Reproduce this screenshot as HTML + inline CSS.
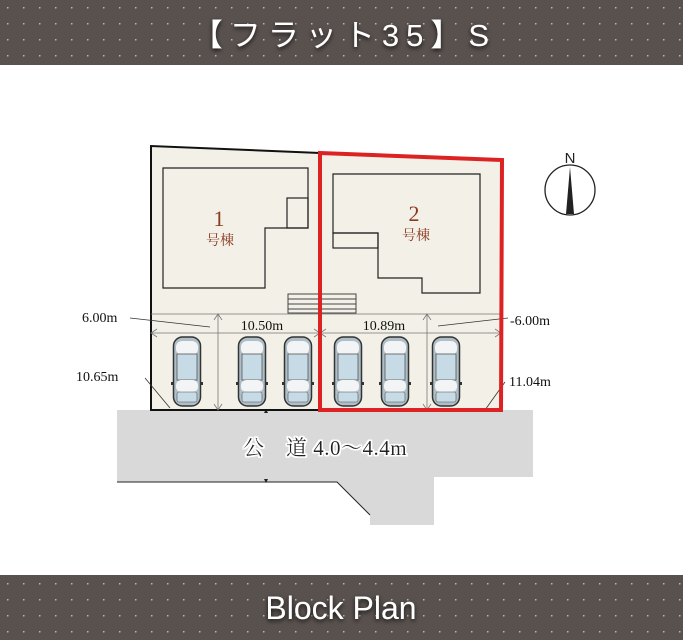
<!DOCTYPE html>
<html><head><meta charset="utf-8"><style>
html,body{margin:0;padding:0;background:#fff;}
svg{display:block;}
</style></head><body>
<svg width="683" height="640" viewBox="0 0 683 640" xmlns="http://www.w3.org/2000/svg">
<defs>
<pattern id="dots" width="16" height="16" patternUnits="userSpaceOnUse">
<rect width="16" height="16" fill="#59514e"/>
<rect x="7" y="7" width="1.5" height="1.5" fill="#bdb5b0"/>
</pattern>
<filter id="sh" x="-20%" y="-40%" width="140%" height="180%"><feDropShadow dx="0" dy="2" stdDeviation="2.5" flood-color="#000" flood-opacity="0.8"/></filter>
<filter id="wh" x="-10%" y="-30%" width="120%" height="160%"><feMorphology operator="dilate" radius="1.5" in="SourceAlpha" result="d"/><feFlood flood-color="#fff"/><feComposite in2="d" operator="in"/><feMerge><feMergeNode/><feMergeNode in="SourceGraphic"/></feMerge></filter>
<g id="car">
<rect x="-13.5" y="0" width="27" height="69" rx="9" fill="#aebfc8" stroke="#333" stroke-width="1.5"/>
<rect x="-11" y="4" width="22" height="14" rx="6" fill="#f2f4f5"/>
<rect x="-10" y="17" width="20" height="26" fill="#c6dbe5" stroke="#555" stroke-width="0.8"/>
<rect x="-11" y="43" width="22" height="12" rx="5" fill="#f2f4f5"/>
<rect x="-10" y="55" width="20" height="10" rx="2" fill="#c6dbe5" stroke="#555" stroke-width="0.6"/>
<rect x="-16" y="45" width="3" height="3" fill="#333"/><rect x="13" y="45" width="3" height="3" fill="#333"/>
</g>
</defs>
<rect x="0" y="0" width="683" height="65" fill="url(#dots)"/>
<text x="344" y="46" text-anchor="middle" font-family="Liberation Sans, Noto Sans CJK JP, sans-serif" font-size="31" letter-spacing="7" fill="#fff" filter="url(#sh)">【フラット35】S</text>
<rect x="0" y="575" width="683" height="65" fill="url(#dots)"/>
<text x="341" y="619" text-anchor="middle" font-family="Liberation Sans, sans-serif" font-size="32" fill="#fff" filter="url(#sh)">Block Plan</text>

<!-- road -->
<polygon points="117,410 533,410 533,477 434,477 434,525 370,525 370,515 337,482 117,482" fill="#d9d9d9"/>
<polyline points="117,482 337,482 370,515" fill="none" stroke="#222" stroke-width="1"/>
<polygon points="264,413 268,413 266,409" fill="#222"/>
<polygon points="264,479 268,479 266,483" fill="#222"/>
<text x="325" y="455" text-anchor="middle" font-family="Liberation Serif, Noto Serif CJK SC, serif" font-size="21" letter-spacing="0.5" fill="#222" filter="url(#wh)">公　道 4.0〜4.4m</text>

<!-- lot -->
<polygon points="151,146 320,153 502,160 501,410 151,410" fill="#f3f0e7"/>
<polyline points="320,153 151,146 151,410 320,410" fill="none" stroke="#111" stroke-width="2"/>
<polygon points="163,168 308,168 308,228 265,228 265,288 163,288" fill="none" stroke="#222" stroke-width="1.2"/>
<rect x="287" y="198" width="21" height="30" fill="none" stroke="#222" stroke-width="1.2"/>
<polygon points="333,174 480,174 480,293 422,293 422,278 378,278 378,233 333,233" fill="none" stroke="#222" stroke-width="1.2"/>
<rect x="333" y="233" width="45" height="15" fill="none" stroke="#222" stroke-width="1.2"/>
<g font-family="Liberation Serif, Noto Serif CJK SC, serif" fill="#8b3a22" text-anchor="middle">
<text x="219" y="226" font-size="22">1</text><text x="220" y="245" font-size="14">号棟</text>
<text x="414" y="221" font-size="22">2</text><text x="416" y="240" font-size="14">号棟</text>
</g>
<rect x="288" y="294" width="68" height="19" fill="none" stroke="#444" stroke-width="1"/>
<line x1="288" y1="299" x2="356" y2="299" stroke="#444"/><line x1="288" y1="304" x2="356" y2="304" stroke="#444"/><line x1="288" y1="309" x2="356" y2="309" stroke="#444"/>
<g stroke="#777" stroke-width="0.8" fill="none">
<line x1="151" y1="314" x2="501" y2="314"/>
<line x1="151" y1="333" x2="501" y2="333"/>
<line x1="218" y1="314" x2="218" y2="410"/><line x1="427" y1="314" x2="427" y2="410"/>
<polyline points="214,320 218,314 222,320"/><polyline points="214,404 218,410 222,404"/>
<polyline points="423,320 427,314 431,320"/><polyline points="423,404 427,410 431,404"/>
<polyline points="157,329 151,333 157,337"/><polyline points="495,329 501,333 495,337"/>
<polyline points="314,329 320,333 314,337"/><polyline points="326,329 320,333 326,337"/>
<line x1="130" y1="318" x2="210" y2="327" stroke="#333"/>
<line x1="145" y1="378" x2="170" y2="408" stroke="#333"/>
<line x1="438" y1="326" x2="508" y2="318" stroke="#333"/>
<line x1="485" y1="410" x2="505" y2="382" stroke="#333"/>
</g>
<g font-family="Liberation Serif, serif" font-size="14" fill="#111">
<rect x="233" y="317" width="58" height="14" fill="#f3f0e7"/>
<text x="262" y="330" text-anchor="middle">10.50m</text>
<rect x="355" y="317" width="58" height="14" fill="#f3f0e7"/>
<text x="384" y="330" text-anchor="middle">10.89m</text>
<text x="82" y="322">6.00m</text>
<text x="76" y="381">10.65m</text>
<text x="510" y="325">-6.00m</text>
<text x="509" y="386">11.04m</text>
</g>
<use href="#car" x="187" y="337"/>
<use href="#car" x="252" y="337"/>
<use href="#car" x="298" y="337"/>
<use href="#car" x="348" y="337"/>
<use href="#car" x="395" y="337"/>
<use href="#car" x="446" y="337"/>
<polygon points="320,153 502,160 501,410 320,410" fill="none" stroke="#dc2222" stroke-width="4"/>
<circle cx="570" cy="190" r="25" fill="none" stroke="#222" stroke-width="1.3"/>
<polygon points="570,167 574,214 566,214" fill="#222"/>
<text x="570" y="163" text-anchor="middle" font-family="Liberation Sans, sans-serif" font-size="15" fill="#222">N</text>
</svg>
</body></html>
